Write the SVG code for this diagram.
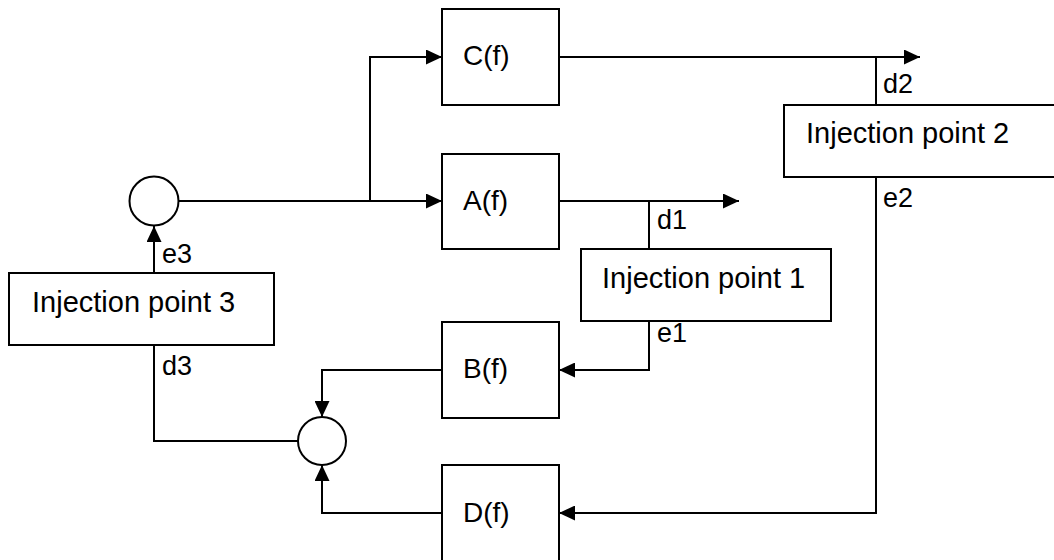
<svg xmlns="http://www.w3.org/2000/svg" width="1054" height="560" viewBox="0 0 1054 560">
<style>
.box{fill:#fff;stroke:#000;stroke-width:2}
.sum{fill:#fff;stroke:#000;stroke-width:2}
.t{font-family:"Liberation Sans",Arial,sans-serif;font-size:28px;fill:#000}
.ip{font-family:"Liberation Sans",Arial,sans-serif;font-size:29px;fill:#000}
.lbl{font-family:"Liberation Sans",Arial,sans-serif;font-size:27px;fill:#000}
.c{fill:none;stroke:#000;stroke-width:2}
.a{marker-end:url(#arr)}
</style>
<defs>
<marker id="arr" viewBox="0 0 16 15" refX="16" refY="7.5" markerWidth="16" markerHeight="15" markerUnits="userSpaceOnUse" orient="auto">
<path d="M0,0 L16,7.5 L0,15 z" fill="#000"/>
</marker>
</defs>
<rect width="1054" height="560" fill="#fff"/>
<g id="connectors">
<path class="c a" d="M178.5,201 L442,201"/>
<path class="c a" d="M370,201 L370,57 L442,57"/>
<path class="c a" d="M559,57 L920,57"/>
<path class="c a" d="M559,201 L739,201"/>
<path class="c" d="M649,201 L649,249"/>
<path class="c a" d="M649,321 L649,370 L559,370"/>
<path class="c" d="M876,57 L876,105"/>
<path class="c a" d="M876,177 L876,513 L559,513"/>
<path class="c a" d="M442,370 L322,370 L322,417"/>
<path class="c a" d="M442,513 L322,513 L322,465"/>
<path class="c" d="M154,345 L154,441 L298,441"/>
<path class="c a" d="M154,273 L154,226"/>
<text class="lbl" x="162" y="263">e3</text>
<text class="lbl" x="162" y="375">d3</text>
<text class="lbl" x="657" y="229">d1</text>
<text class="lbl" x="657" y="342">e1</text>
<text class="lbl" x="883" y="93">d2</text>
<text class="lbl" x="883" y="207">e2</text>
</g>
<g id="sum1"><circle class="sum" cx="154" cy="201" r="24.5"/></g>
<g id="sum2"><circle class="sum" cx="322" cy="441" r="24"/></g>
<g id="C"><rect class="box" x="442" y="9" width="117" height="96"/><text class="t" x="463" y="65">C(f)</text></g>
<g id="A"><rect class="box" x="442" y="154" width="117" height="95"/><text class="t" x="463" y="210">A(f)</text></g>
<g id="B"><rect class="box" x="442" y="322" width="117" height="96"/><text class="t" x="463" y="378">B(f)</text></g>
<g id="D"><rect class="box" x="442" y="465" width="117" height="100"/><text class="t" x="463" y="521.5">D(f)</text></g>
<g id="ip1"><rect class="box" x="581" y="249" width="250" height="72"/><text class="ip" x="602" y="288">Injection point 1</text></g>
<g id="ip2"><rect class="box" x="784" y="105" width="280" height="72"/><text class="ip" x="806" y="143">Injection point 2</text></g>
<g id="ip3"><rect class="box" x="9" y="273" width="265" height="72"/><text class="ip" x="32" y="312">Injection point 3</text></g>
</svg>
